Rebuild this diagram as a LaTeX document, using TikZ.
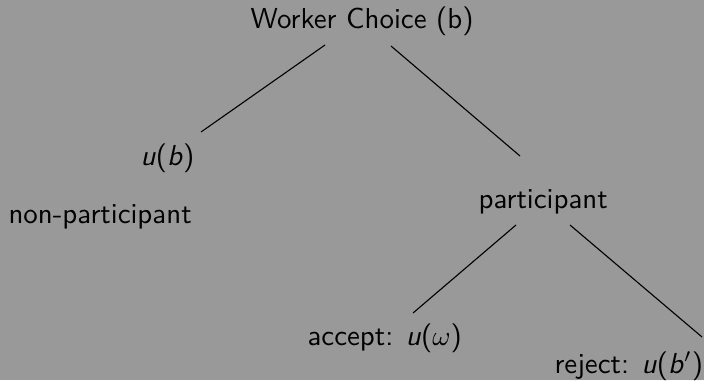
\documentclass[tikz,border=0pt]{standalone}
\definecolor{bg}{RGB}{153,153,153}
\tikzset{
  lbl/.style={anchor=base west, inner sep=0pt, font=\sffamily\fontsize{10.4}{12}\selectfont, text=black},
  edge/.style={draw=black, line width=0.4pt}
}
\begin{document}
\begin{tikzpicture}[x=0.36pt, y=-0.36pt]
\fill[bg] (0,0) rectangle (704,380);
\useasboundingbox (0,0) rectangle (704,380);
\node[lbl] (root) at (250,28) {Worker Choice (b)};
\node[lbl] (ub) at (140,165) {\textit{u}(\textit{b})};
\node[lbl] (np) at (8,223) {non-participant};
\node[lbl] (part) at (478,208) {participant};
\node[lbl] (acc) at (307,345) {accept:\hspace{4.5pt}\textit{u}($\omega$)};
\node[lbl] (rej) at (554,373) {reject:\hspace{4.5pt}\textit{u}(\textit{b}$'$)};
\coordinate (r1) at (325,45);
\coordinate (u1) at (201,132);
\coordinate (r2) at (391,46);
\coordinate (p1) at (520,156);
\coordinate (p2) at (516,225);
\coordinate (a1) at (413,313);
\coordinate (p3) at (570,225);
\coordinate (j1) at (702,337);
\draw[edge] (r1) -- (u1);
\draw[edge] (r2) -- (p1);
\draw[edge] (p2) -- (a1);
\draw[edge] (p3) -- (j1);
\end{tikzpicture}
\end{document}
